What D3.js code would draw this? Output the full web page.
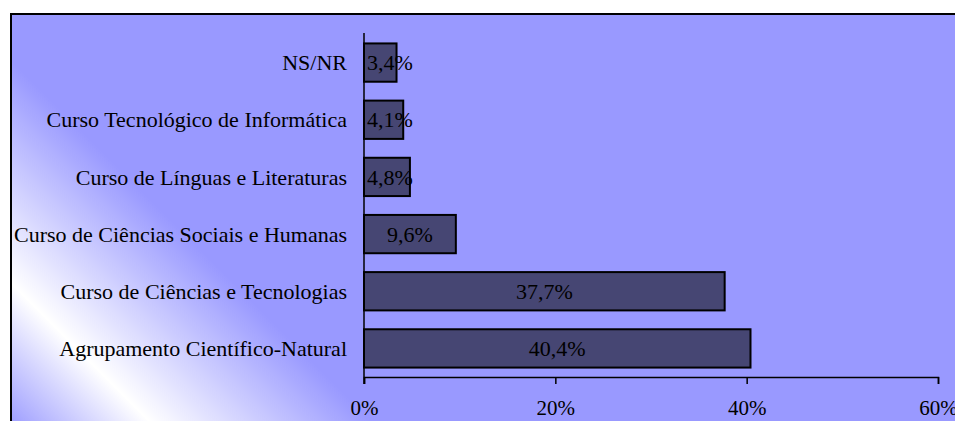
<!DOCTYPE html>
<html><head><meta charset="utf-8">
<script src="https://cdn.jsdelivr.net/npm/d3@7"></script>
<style>
html,body{margin:0;padding:0;background:#fff;overflow:hidden}
</style>
</head><body>
<script>
const categories = ["NS/NR","Curso Tecnológico de Informática","Curso de Línguas e Literaturas","Curso de Ciências Sociais e Humanas","Curso de Ciências e Tecnologias","Agrupamento Científico-Natural"];
const values = [3.4, 4.1, 4.8, 9.6, 37.7, 40.4];
const valueLabels = ["3,4%","4,1%","4,8%","9,6%","37,7%","40,4%"];
const xTicks = [0, 20, 40, 60];

// pick an installed serif face (Times-like) by measuring text
function pickFont() {
  const cands = ["Liberation Serif","Tinos","Times New Roman","Times","Nimbus Roman","Nimbus Roman No9 L","DejaVu Serif","Noto Serif","FreeSerif","Georgia"];
  const c = document.createElement("canvas").getContext("2d");
  const s = "Curso Tecnológico de Informática mmmWWWiii";
  const base = {};
  ["monospace","sans-serif"].forEach(b => { c.font = "40px " + b; base[b] = c.measureText(s).width; });
  for (const f of cands) {
    let ok = false;
    for (const b of ["monospace","sans-serif"]) {
      c.font = `40px "${f}", ${b}`;
      if (Math.abs(c.measureText(s).width - base[b]) > 0.5) ok = true;
    }
    if (ok) return `"${f}", serif`;
  }
  return `"Liberation Serif", "Times New Roman", serif`;
}
const font = pickFont();

const W = 955, H = 421;
const svg = d3.select("body").append("svg").attr("width", W).attr("height", H);
const defs = svg.append("defs");
const grad = defs.append("linearGradient").attr("id","bg").attr("gradientUnits","userSpaceOnUse")
  .attr("x1", -10).attr("y1", 410).attr("x2", 175).attr("y2", 225);
grad.append("stop").attr("offset", 0).attr("stop-color", "#9999FF");
grad.append("stop").attr("offset", 0.4).attr("stop-color", "#FFFFFF");
grad.append("stop").attr("offset", 1).attr("stop-color", "#9999FF");

svg.append("rect").attr("x", 11).attr("y", 14).attr("width", W + 20).attr("height", H + 20)
  .attr("fill", "url(#bg)").attr("stroke", "#000").attr("stroke-width", 2);

const x = d3.scaleLinear().domain([0, 60]).range([364, 938]);
const y = d3.scaleBand().domain(categories).range([34, 377]).paddingInner(0.33).paddingOuter(0.165);

// bars
svg.selectAll("rect.bar").data(values).enter().append("rect").attr("class","bar")
  .attr("x", x(0)).attr("y", (d,i) => y(categories[i]))
  .attr("width", d => x(d) - x(0)).attr("height", y.bandwidth())
  .attr("fill", "#464673").attr("stroke", "#000").attr("stroke-width", 2);

// x axis
const xAxis = d3.axisBottom(x).tickValues(xTicks).tickFormat(d => d + "%").tickSize(7).tickPadding(16);
const gx = svg.append("g").attr("transform", "translate(0,377)").call(xAxis);
gx.select(".domain").attr("stroke", "#000").attr("stroke-width", 1.5);
gx.selectAll(".tick line").attr("stroke", "#000").attr("stroke-width", 1.5);
gx.selectAll(".tick text").style("font-family", font).style("font-size", "21px").attr("fill", "#000");

// y axis
const yAxis = d3.axisLeft(y).tickSize(0).tickPadding(17);
const gy = svg.append("g").attr("transform", "translate(364,0)").call(yAxis);
gy.select(".domain").remove();
gy.selectAll(".tick text").style("font-family", font).style("font-size", "22px").attr("fill", "#000").attr("dy", "0.35em");
svg.append("line").attr("x1", 364).attr("x2", 364).attr("y1", 33).attr("y2", 384)
  .attr("stroke", "#000").attr("stroke-width", 1.5);

// value labels
svg.selectAll("text.val").data(values).enter().append("text").attr("class","val")
  .attr("x", (d) => Math.max((x(0) + x(d)) / 2, x(0) + 26))
  .attr("y", (d,i) => y(categories[i]) + y.bandwidth() / 2)
  .attr("dy", "0.35em").attr("text-anchor", "middle")
  .style("font-family", font).style("font-size", "22px").attr("fill", "#000")
  .text((d,i) => valueLabels[i]);
</script>
</body></html>
